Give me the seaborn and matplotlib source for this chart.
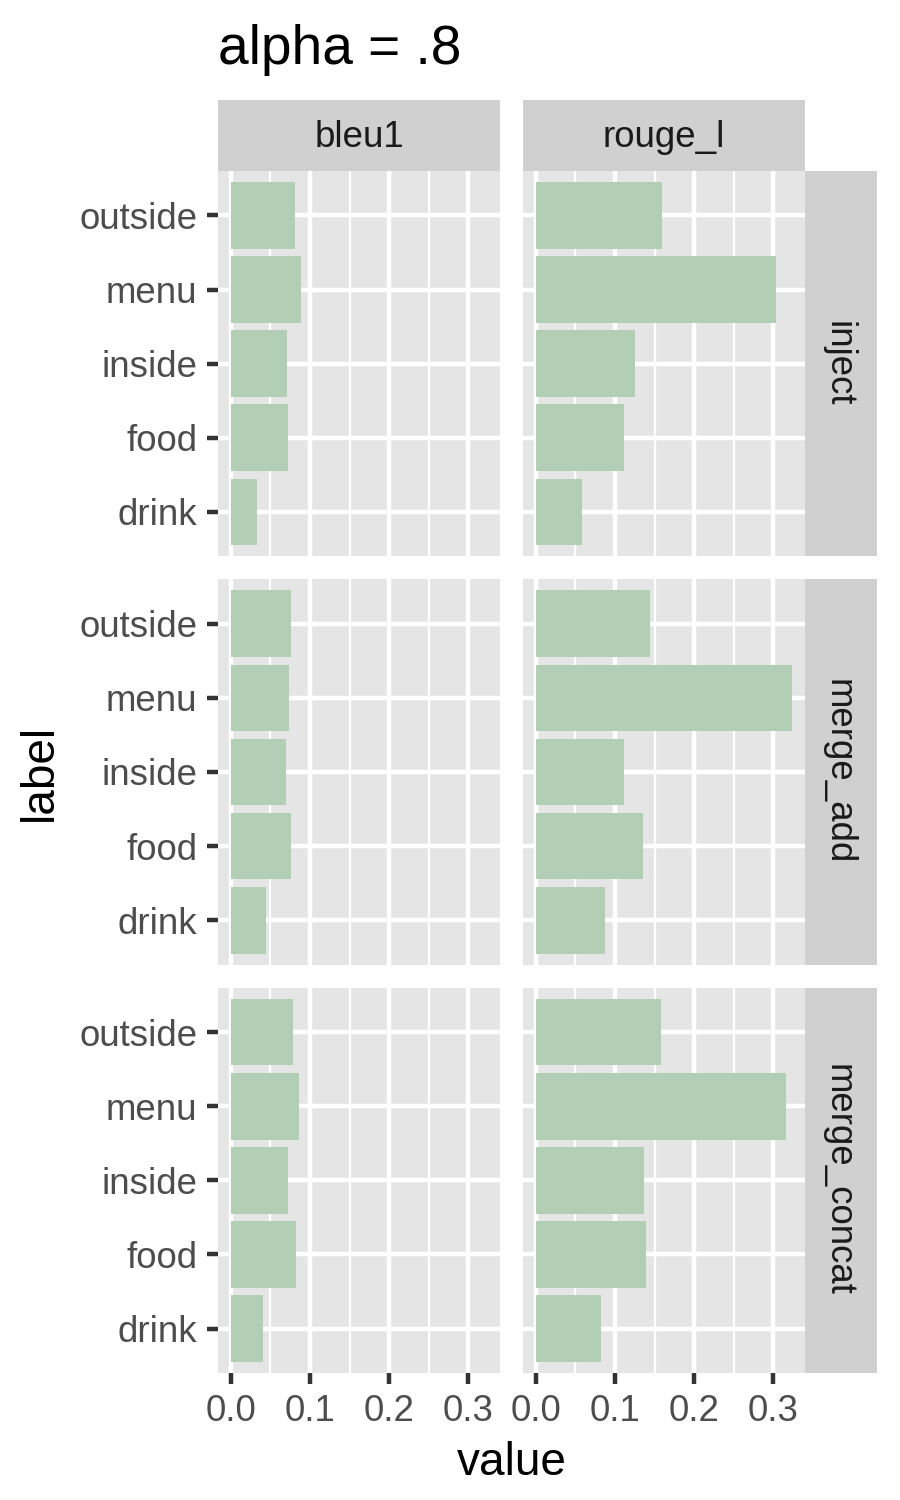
import numpy as np
import pandas as pd
import matplotlib.pyplot as plt
import matplotlib.patches as mpatches
import seaborn as sns

# data
labels = ['outside', 'menu', 'inside', 'food', 'drink']
methods = ['inject', 'merge_add', 'merge_concat']
metrics = ['bleu1', 'rouge_l']

inject_bleu1 = [0.081, 0.089, 0.071, 0.072, 0.033]
inject_rouge_l = [0.160, 0.304, 0.125, 0.112, 0.058]
merge_add_bleu1 = [0.076, 0.073, 0.070, 0.076, 0.044]
merge_add_rouge_l = [0.144, 0.324, 0.111, 0.136, 0.087]
merge_concat_bleu1 = [0.079, 0.086, 0.072, 0.082, 0.041]
merge_concat_rouge_l = [0.158, 0.316, 0.137, 0.139, 0.082]

values = {
    ('inject', 'bleu1'): inject_bleu1,
    ('inject', 'rouge_l'): inject_rouge_l,
    ('merge_add', 'bleu1'): merge_add_bleu1,
    ('merge_add', 'rouge_l'): merge_add_rouge_l,
    ('merge_concat', 'bleu1'): merge_concat_bleu1,
    ('merge_concat', 'rouge_l'): merge_concat_rouge_l,
}

rows = []
for (m, met), vals in values.items():
    for lab, v in zip(labels, vals):
        rows.append({'method': m, 'metric': met, 'label': lab, 'value': v})
df = pd.DataFrame(rows)

# ggplot-ish look
plt.rcParams['font.family'] = ['Liberation Sans', 'DejaVu Sans']
PANEL_BG = '#E5E5E5'
STRIP_BG = '#D0D0D0'
BAR_COLOR = '#B2CFB6'
TICK_TXT = '#4D4D4D'

W, H = 900, 1500
fig = plt.figure(figsize=(3, 5), dpi=300)


def fx(px):
    return px / W


def fy(px):
    return 1 - px / H


col_x = [218, 523]
panel_w = 282
top, bottom, gap = 171, 1373, 23
ph = (bottom - top - 2 * gap) / 3

xmax = df['value'].max()
pad = 0.05 * xmax

for i, m in enumerate(methods):
    y0 = top + i * (ph + gap)
    for j, met in enumerate(metrics):
        ax = fig.add_axes([fx(col_x[j]), fy(y0 + ph), panel_w / W, ph / H])
        sub = df[(df['method'] == m) & (df['metric'] == met)]
        sns.barplot(data=sub, x='value', y='label', order=labels, orient='h',
                    color=BAR_COLOR, saturation=1, width=0.9, errorbar=None,
                    ax=ax, zorder=3)
        ax.set_facecolor(PANEL_BG)
        ax.set_xlim(-pad, xmax + pad)
        ax.set_ylim(4.6, -0.6)
        ax.set_xticks([0, 0.1, 0.2, 0.3])
        ax.set_xticks([0.05, 0.15, 0.25], minor=True)
        ax.set_xticklabels(['0.0', '0.1', '0.2', '0.3'])
        ax.set_axisbelow(True)
        ax.grid(which='major', color='white', lw=1.07, zorder=0)
        ax.grid(which='minor', axis='x', color='white', lw=0.53, zorder=0)
        for s in ax.spines.values():
            s.set_visible(False)
        ax.set_xlabel('')
        ax.set_ylabel('')
        ax.tick_params(which='minor', length=0)
        ax.tick_params(which='major', length=2.75, width=1.07,
                       color='#333333', labelcolor=TICK_TXT,
                       labelsize=8.8, pad=2.2)
        if j > 0:
            ax.tick_params(axis='y', length=0, labelleft=False)
        if i < len(methods) - 1:
            ax.tick_params(axis='x', length=0, labelbottom=False)

        # top strips
        if i == 0:
            fig.patches.append(mpatches.Rectangle(
                (fx(col_x[j]), fy(top)), panel_w / W, (top - 100) / H,
                transform=fig.transFigure, facecolor=STRIP_BG, edgecolor='none'))
            fig.text(fx(col_x[j] + panel_w / 2), fy((top + 100) / 2 + 2), met,
                     ha='center', va='center', size=8.8, color='#1A1A1A')

    # right strips
    fig.patches.append(mpatches.Rectangle(
        (fx(805), fy(y0 + ph)), 72 / W, ph / H,
        transform=fig.transFigure, facecolor=STRIP_BG, edgecolor='none'))
    fig.text(fx(838), fy(y0 + ph / 2), m, ha='center', va='center',
             rotation=-90, size=8.8, color='#1A1A1A')

fig.text(fx(218), fy(64), 'alpha = .8', ha='left', va='baseline',
         size=13.2, color='black')
fig.text(fx(511.5), fy(1463), 'value', ha='center', va='center', size=11)
fig.text(fx(40), fy((top + bottom) / 2), 'label', ha='center', va='center',
         rotation=90, size=11)

fig.savefig('out.png', dpi=300, facecolor='white')
